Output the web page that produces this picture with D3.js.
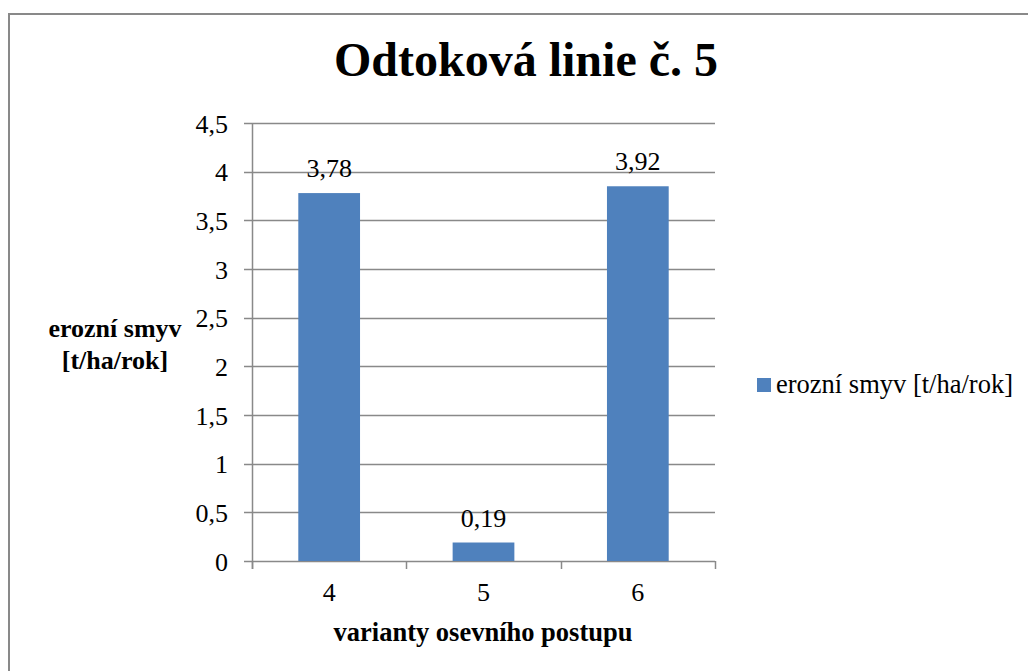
<!DOCTYPE html>
<html>
<head>
  <meta charset="utf-8">
  <title>Odtoková linie č. 5</title>
  <script src="https://cdn.jsdelivr.net/npm/d3@7"></script>
  <style>
    body { margin: 0; background: #fff; }
  </style>
</head>
<body>
  <div id="chart"></div>

  <script>
    // values
    const categories = ["4", "5", "6"]
    const barHeights = [3.78, 0.19, 3.85]
    const dataLabels = ["3,78", "0,19", "3,92"]
    const yTicks = [0, 0.5, 1, 1.5, 2, 2.5, 3, 3.5, 4, 4.5]
    const seriesName = "erozní smyv [t/ha/rok]"
    const yTitleLines = ["erozní smyv", "[t/ha/rok]"]
    const xTitle = "varianty osevního postupu"
    const chartTitle = "Odtoková linie č. 5"

    const width = 1028
    const height = 671
    const gridColor = "#898989"
    const barColor = "#4f81bd"
    const serif = "Liberation Serif"

    const svg = d3.select("#chart")
      .append("svg")
      .attr("width", width)
      .attr("height", height)
      .attr("font-family", serif)

    // outer frame (right and bottom edges fall outside the picture)
    svg.append("rect")
      .attr("x", 9)
      .attr("y", 14)
      .attr("width", 1100)
      .attr("height", 800)
      .attr("fill", "none")
      .attr("stroke", gridColor)
      .attr("stroke-width", 2)

    const x = d3.scaleBand()
      .domain(categories)
      .range([252, 715])
      .paddingInner(0.6)
      .paddingOuter(0.3)

    const y = d3.scaleLinear()
      .domain([0, 4.5])
      .range([561, 123])

    // gridlines
    svg.append("g")
      .selectAll("line")
      .data(yTicks)
      .enter()
      .append("line")
      .attr("x1", 244)
      .attr("x2", 715)
      .attr("y1", d => Math.round(y(d)) + 0.5)
      .attr("y2", d => Math.round(y(d)) + 0.5)
      .style("stroke", gridColor)
      .style("stroke-width", 1.5)

    // y axis
    const yAxis = d3.axisLeft(y)
      .tickValues(yTicks)
      .tickSize(0)
      .tickPadding(24)
      .tickFormat(d => String(d).replace(".", ","))

    const yg = svg.append("g")
      .attr("transform", "translate(252,0)")
      .call(yAxis)
      .attr("font-family", serif)
      .attr("font-size", 26)
    yg.select(".domain").remove()
    yg.selectAll("text")
      .attr("fill", "#000")
      .attr("dy", "0.35em")

    svg.append("line")
      .attr("x1", 252.5).attr("x2", 252.5)
      .attr("y1", y(4.5)).attr("y2", y(0) + 8)
      .style("stroke", gridColor)
      .style("stroke-width", 1.5)

    // x axis: ticks sit between the categories
    const step = x.step()
    const bounds = categories.map(c => x(c) + x.bandwidth() / 2 - step / 2)
    bounds.push(x(categories[categories.length - 1]) + x.bandwidth() / 2 + step / 2)

    svg.append("g")
      .selectAll("line")
      .data(bounds)
      .enter()
      .append("line")
      .attr("x1", d => Math.round(d) + 0.5)
      .attr("x2", d => Math.round(d) + 0.5)
      .attr("y1", y(0))
      .attr("y2", y(0) + 8)
      .style("stroke", gridColor)
      .style("stroke-width", 1.5)

    const xAxis = d3.axisBottom(x).tickSize(0).tickPadding(22)
    const xg = svg.append("g")
      .attr("transform", `translate(0,${y(0)})`)
      .call(xAxis)
      .attr("font-family", serif)
      .attr("font-size", 26)
    xg.select(".domain").remove()
    xg.selectAll("text").attr("fill", "#000")

    // bars
    svg.append("g")
      .selectAll("rect")
      .data(categories)
      .enter()
      .append("rect")
      .attr("x", d => x(d))
      .attr("width", x.bandwidth())
      .attr("y", (d, i) => y(barHeights[i]))
      .attr("height", (d, i) => y(0) - y(barHeights[i]))
      .attr("fill", barColor)

    // data labels
    svg.append("g")
      .selectAll("text")
      .data(categories)
      .enter()
      .append("text")
      .attr("x", d => x(d) + x.bandwidth() / 2)
      .attr("y", (d, i) => y(barHeights[i]) - 16)
      .attr("text-anchor", "middle")
      .attr("font-size", 26)
      .text((d, i) => dataLabels[i])

    // title
    svg.append("text")
      .attr("x", 526)
      .attr("y", 76)
      .attr("text-anchor", "middle")
      .attr("font-size", 48)
      .attr("font-weight", "bold")
      .text(chartTitle)

    // y axis title
    svg.append("g")
      .selectAll("text")
      .data(yTitleLines)
      .enter()
      .append("text")
      .attr("x", 115)
      .attr("y", (d, i) => 337 + i * 32)
      .attr("text-anchor", "middle")
      .attr("font-size", 26)
      .attr("font-weight", "bold")
      .text(d => d)

    // x axis title
    svg.append("text")
      .attr("x", 483)
      .attr("y", 641)
      .attr("text-anchor", "middle")
      .attr("font-size", 26.5)
      .attr("font-weight", "bold")
      .text(xTitle)

    // legend
    const legend = svg.append("g").attr("transform", "translate(757,378)")
    legend.append("rect")
      .attr("width", 14)
      .attr("height", 14)
      .attr("fill", barColor)
    legend.append("text")
      .attr("x", 19)
      .attr("y", 15)
      .attr("font-size", 26.5)
      .text(seriesName)
  </script>
</body>
</html>
